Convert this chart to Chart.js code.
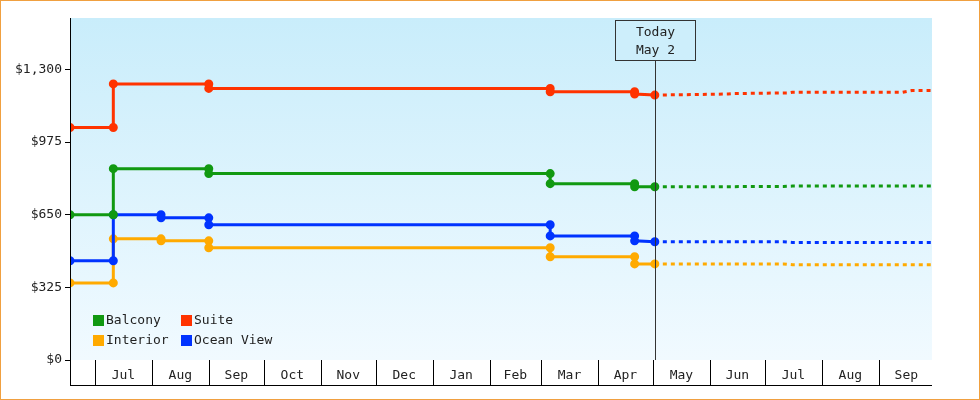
<!DOCTYPE html>
<html>
<head>
<meta charset="utf-8">
<script src="https://cdn.jsdelivr.net/npm/chart.js@4"></script>
<style>
  body { margin: 0; background: #fff; }
  #wrap { width: 980px; height: 400px; position: relative; }
</style>
</head>
<body>
<div id="wrap"><canvas id="chart" width="980" height="400"></canvas></div>
<script>
// x values are days since Jul 1 (Today = May 2 = day 305)
const monthLabels = ['Jul','Aug','Sep','Oct','Nov','Dec','Jan','Feb','Mar','Apr','May','Jun','Jul','Aug','Sep'];
const monthStarts = [0, 31, 62, 92, 123, 153, 184, 215, 243, 274, 304, 335, 365, 396, 427, 457];
const todayDay = 305;
const xMin = -13.6, xMax = 456;

// history: [day, price] pairs incl. both ends of each step
const suiteHist = [[xMin,1040],[10,1040],[10,1235],[62,1235],[62,1215],[248,1215],[248,1200],[294,1200],[294,1190],[305,1185]];
const balconyHist = [[xMin,650],[10,650],[10,856],[62,856],[62,834],[248,834],[248,789],[294,789],[294,775],[305,775]];
const oceanHist = [[xMin,444],[10,444],[10,650],[36,650],[36,636],[62,636],[62,605],[248,605],[248,555],[294,555],[294,533],[305,529]];
const interiorHist = [[xMin,345],[10,345],[10,542],[36,542],[36,533],[62,533],[62,502],[248,502],[248,462],[294,462],[294,430],[305,430]];

// forecast after today
const suiteFc = [[305,1185],[345,1190],[348,1192],[378,1195],[380,1198],[440,1198],[445,1206],[456,1206]];
const balconyFc = [[305,775],[375,776],[380,778],[456,778]];
const oceanFc = [[305,529],[375,529],[380,526],[456,526]];
const interiorFc = [[305,430],[375,430],[380,426],[456,426]];

const colors = { suite: '#ff3300', balcony: '#119911', ocean: '#0033ff', interior: '#ffaa00' };

function pts(arr) { return arr.map(p => ({ x: p[0], y: p[1] })); }
function hist(label, arr, c) {
  return { label, data: pts(arr), borderColor: c, backgroundColor: c, borderWidth: 3,
    pointRadius: 3, pointHoverRadius: 3, tension: 0, fill: false };
}
function fc(arr, c) {
  return { label: '', data: pts(arr), borderColor: c, borderWidth: 3, borderDash: [4, 4],
    pointRadius: 0, tension: 0, fill: false };
}

const mono = 'DejaVu Sans Mono';

const decor = {
  id: 'decor',
  beforeDraw(chart) {
    const { ctx, chartArea: a } = chart;
    ctx.save();
    const g = ctx.createLinearGradient(0, a.top, 0, a.bottom);
    g.addColorStop(0, '#c9edfb');
    g.addColorStop(1, '#f1faff');
    ctx.fillStyle = g;
    ctx.fillRect(a.left, a.top, a.right - a.left, a.bottom - a.top);
    ctx.restore();
  },
  afterDraw(chart) {
    const { ctx, chartArea: a, scales } = chart;
    const x = scales.x;
    ctx.save();
    ctx.strokeStyle = '#000';
    ctx.lineWidth = 1;
    ctx.beginPath();
    monthStarts.forEach(d => {
      const px = Math.round(x.getPixelForValue(d)) + 0.5;
      if (px > a.left && px <= a.right + 1) { ctx.moveTo(px, a.bottom); ctx.lineTo(px, 385); }
    });
    ctx.moveTo(a.left, 385.5); ctx.lineTo(a.right, 385.5);
    ctx.moveTo(a.left + 0.5, a.top); ctx.lineTo(a.left + 0.5, 385);
    ctx.stroke();
    // today marker
    const tx = Math.round(x.getPixelForValue(todayDay)) + 0.5;
    ctx.strokeStyle = '#333';
    ctx.beginPath(); ctx.moveTo(tx, 60); ctx.lineTo(tx, a.bottom); ctx.stroke();
    ctx.fillStyle = '#cdeefb';
    ctx.fillRect(tx - 40, 20, 80, 40);
    ctx.strokeRect(tx - 40, 20.5, 80, 40);
    ctx.fillStyle = '#222';
    ctx.font = '13px ' + mono;
    ctx.textAlign = 'center';
    ctx.fillText('Today', tx, 36);
    ctx.fillText('May 2', tx, 54);
    // legend
    const items = [['Balcony', colors.balcony, 93, 321], ['Suite', colors.suite, 181, 321],
                   ['Interior', colors.interior, 93, 341], ['Ocean View', colors.ocean, 181, 341]];
    ctx.textAlign = 'left';
    ctx.textBaseline = 'middle';
    items.forEach(([t, c, lx, ly]) => {
      ctx.fillStyle = c;
      ctx.fillRect(lx, ly - 6, 11, 11);
      ctx.fillStyle = '#222';
      ctx.fillText(t, lx + 13, ly);
    });
    ctx.strokeStyle = '#f0a040';
    ctx.strokeRect(0.5, 0.5, chart.width - 1, chart.height - 1);
    ctx.restore();
  }
};

new Chart(document.getElementById('chart'), {
  type: 'line',
  data: {
    datasets: [
      hist('Suite', suiteHist, colors.suite), fc(suiteFc, colors.suite),
      hist('Balcony', balconyHist, colors.balcony), fc(balconyFc, colors.balcony),
      hist('Ocean View', oceanHist, colors.ocean), fc(oceanFc, colors.ocean),
      hist('Interior', interiorHist, colors.interior), fc(interiorFc, colors.interior)
    ]
  },
  options: {
    responsive: false,
    animation: false,
    layout: { padding: { top: 18, right: 48, left: 0, bottom: 0 } },
    plugins: { legend: { display: false }, tooltip: { enabled: false } },
    scales: {
      x: {
        type: 'linear', min: xMin, max: xMax,
        grid: { display: false }, border: { display: false },
        afterFit: s => { s.height = 40; },
        afterBuildTicks: s => {
          s.ticks = monthLabels.map((m, i) => ({ value: (monthStarts[i] + monthStarts[i + 1]) / 2 }));
        },
        ticks: {
          autoSkip: false, maxRotation: 0, padding: 0,
          color: '#222', font: { family: mono, size: 13 },
          callback: (v, i) => monthLabels[i]
        }
      },
      y: {
        min: 0, max: 1530,
        afterFit: s => { s.width = 70; },
        afterBuildTicks: s => { s.ticks = [0, 325, 650, 975, 1300].map(v => ({ value: v })); },
        grid: { display: true, drawOnChartArea: false, drawTicks: true, tickLength: 5, color: '#000' },
        border: { display: true, color: '#000' },
        ticks: {
          color: '#222', font: { family: mono, size: 13 }, padding: 3,
          callback: v => '$' + v.toLocaleString('en-US')
        }
      }
    }
  },
  plugins: [decor]
});
</script>
</body>
</html>
